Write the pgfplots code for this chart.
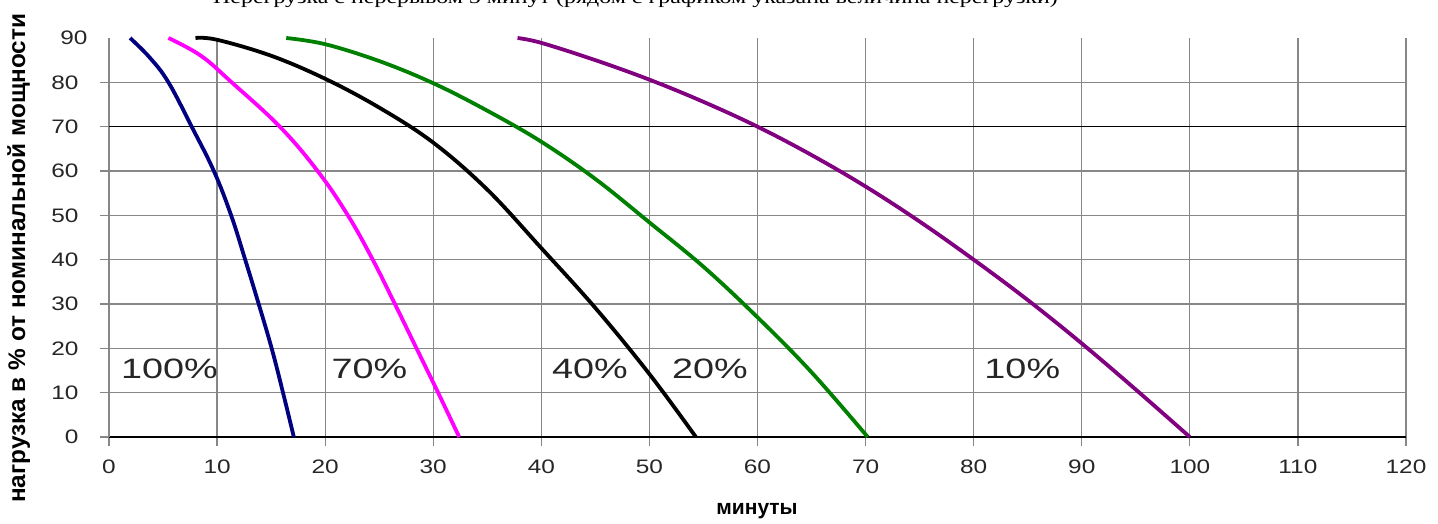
\documentclass[border=0pt]{standalone}
\usepackage{pgfplots}
\pgfplotsset{compat=1.18}
\usepackage{fontspec}
\setmainfont{Liberation Sans}
\newfontfamily\serifru{Liberation Serif}
\definecolor{navyc}{RGB}{0,0,128}
\definecolor{magc}{RGB}{255,0,255}
\definecolor{greenc}{RGB}{0,128,0}
\definecolor{purpc}{RGB}{128,0,128}
\definecolor{gridc}{RGB}{135,135,135}
\begin{document}
\begin{tikzpicture}[x=1pt,y=1pt]
\useasboundingbox (0,0) rectangle (1438,524);
\node[anchor=base west, inner sep=0pt, font=\serifru\fontsize{19}{22}\selectfont] at (213,520) {\scalebox{1.26}[1]{Перегрузка с перерывом 5 минут (рядом с графиком указана величина перегрузки)}};
\node[rotate=90, anchor=base west, inner sep=0pt, font=\bfseries\fontsize{24}{27}\selectfont] at (25,21) {\scalebox{1.015}[1]{нагрузка в \% от номинальной мощности}};
\node[anchor=base, inner sep=0pt, font=\bfseries\fontsize{21}{24}\selectfont] at (757,9) {минуты};
\begin{axis}[
  at={(109pt,87pt)}, anchor=south west,
  width=1297pt, height=399pt, scale only axis,
  xmin=0, xmax=120, ymin=0, ymax=90,
  axis x line=bottom, axis y line=left, axis line style={-},
  x axis line style={black, line width=1.3pt},
  y axis line style={gridc, line width=1.3pt},
  xtick={0,10,...,120}, ytick={0,10,...,80},
  extra y ticks={90}, extra y tick style={grid=none, major tick length=0pt},
  tick align=outside, major tick length=9pt,
  tick style={gridc, line width=1.2pt},
  grid=major, major grid style={gridc, line width=1.2pt},
  ticklabel style={font=\fontsize{19.5}{22}\selectfont, text=black!85},
  xticklabel style={yshift=-10pt},
  yticklabel style={xshift=-18pt},
  xticklabel={\scalebox{1.25}[1]{\pgfmathprintnumber[assume math mode=true]{\tick}}},
  yticklabel={\scalebox{1.25}[1]{\pgfmathprintnumber[assume math mode=true]{\tick}}},
  clip=false,
]
\addplot[black, line width=1.3pt, forget plot] coordinates {(0,70) (120,70)};
% 100%
\addplot[navyc, line width=3.8pt, smooth, tension=0.65] coordinates {
(1.95,90) (3.8,85.5) (5.5,80) (7.65,70) (9.7,60) (11.3,50) (12.6,40) (13.85,30) (15.05,20) (16.1,10) (17.1,0)};
% 70%
\addplot[magc, line width=3.8pt, smooth, tension=0.65] coordinates {
(5.5,90) (8.5,86) (11.35,80) (15.8,70) (19.3,60) (22.1,50) (24.4,40) (26.45,30) (28.45,20) (30.45,10) (32.4,0)};
% 40%
\addplot[black, line width=3.8pt, smooth, tension=0.6] coordinates {
(8,90) (10,89.6) (15,86) (20,80.8) (25,74.3) (30,66.4) (35,55.8) (40,42.6) (45,29.1) (50,14.2) (54.3,0)};
% 20%
\addplot[greenc, line width=3.8pt, smooth, tension=0.6] coordinates {
(16.4,90) (20,88.6) (25,84.8) (30,79.8) (35,73.6) (40,66.6) (45,58.2) (50,48.4) (55,38.4) (60,27.0) (65,14.6) (70.2,0)};
% 10%
\addplot[purpc, line width=3.8pt, smooth, tension=0.6] coordinates {
(37.8,90) (40,88.9) (45,85) (50,80.6) (55,75.6) (60,70) (65,63.6) (70,56.5) (75,48.6) (80,40) (85,30.9) (90,21.1) (95,10.7) (100,0)};
\begin{scope}[every node/.style={font=\fontsize{28}{30}\selectfont, text=black!85}]
\node at (axis cs:5.6,15.3) {\scalebox{1.35}[1]{100\%}};
\node at (axis cs:24.1,15.3) {\scalebox{1.35}[1]{70\%}};
\node at (axis cs:44.5,15.3) {\scalebox{1.35}[1]{40\%}};
\node at (axis cs:55.6,15.3) {\scalebox{1.35}[1]{20\%}};
\node at (axis cs:84.5,15.3) {\scalebox{1.35}[1]{10\%}};
\end{scope}
\end{axis}
\end{tikzpicture}
\end{document}
